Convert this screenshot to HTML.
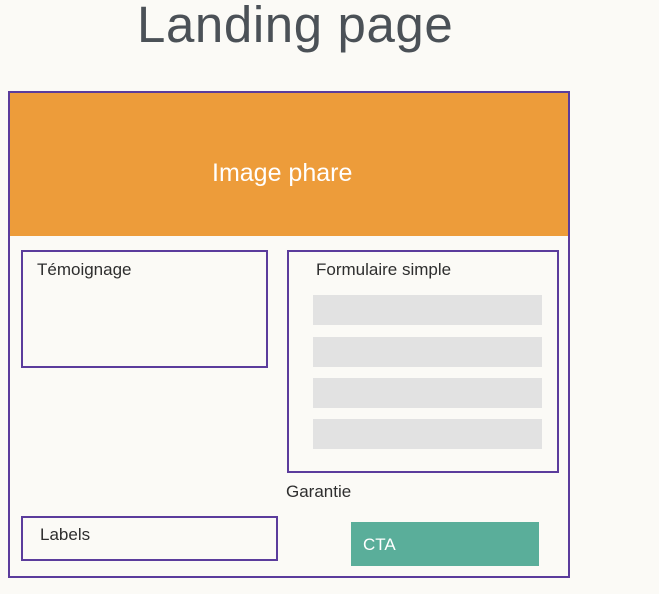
<!DOCTYPE html>
<html><head><style>
body{margin:0;width:659px;height:594px;background:#fbfaf6;position:relative;overflow:hidden;font-family:"Liberation Sans",sans-serif;}
div{position:absolute;box-sizing:border-box;}
.b{border:2px solid #5b3c9c;}
.g{background:#e2e2e2;left:313px;width:229px;height:30px;}
.t{font-size:17px;color:#2e2e2e;}
</style></head><body>
<div style="left:137px;top:-5px;font-size:51px;letter-spacing:0.6px;color:#4b5157;white-space:nowrap;">Landing page</div>
<div class="b" style="left:8px;top:91px;width:562px;height:487px;border-width:2.5px;"></div>
<div style="left:10px;top:93px;width:558px;height:143px;background:#ed9c3a;"></div>
<div style="left:212px;top:159px;font-size:25px;color:#fff;">Image phare</div>
<div class="b" style="left:21px;top:250px;width:247px;height:118px;"></div>
<div class="t" style="left:37px;top:260px;">Témoignage</div>
<div class="b" style="left:287px;top:250px;width:272px;height:223px;"></div>
<div class="t" style="left:316px;top:260px;">Formulaire simple</div>
<div class="g" style="top:295px;"></div>
<div class="g" style="top:337px;"></div>
<div class="g" style="top:378px;"></div>
<div class="g" style="top:419px;"></div>
<div class="t" style="left:286px;top:482px;">Garantie</div>
<div class="b" style="left:21px;top:516px;width:257px;height:45px;"></div>
<div class="t" style="left:40px;top:525px;">Labels</div>
<div style="left:351px;top:522px;width:188px;height:44px;background:#5aae9a;"></div>
<div style="left:363px;top:535px;font-size:17px;color:#fff;">CTA</div>
</body></html>
